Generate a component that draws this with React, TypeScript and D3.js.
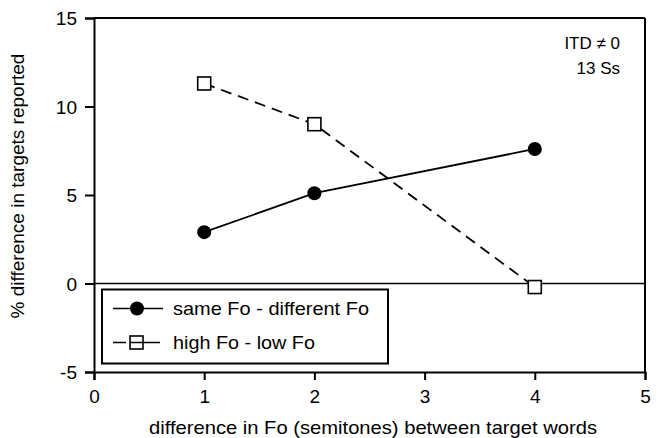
import * as d3 from 'd3';
import React, { useEffect, useRef } from 'react';

// data
const semitones = [1, 2, 4];
const sameMinusDiff = [2.9, 5.1, 7.6];
const highMinusLow = [11.3, 9.0, -0.2];
const xTicks = [0, 1, 2, 3, 4, 5];
const yTicks = [-5, 0, 5, 10, 15];

const App = () => {
  const ref = useRef<SVGSVGElement>(null);

  useEffect(() => {
    const svg = d3.select(ref.current);
    svg.selectAll('*').remove();

    const margin = { top: 18, right: 15, bottom: 66, left: 94 },
      width = 660 - margin.left - margin.right,
      height = 438 - margin.top - margin.bottom;

    const font = 'Liberation Sans, Arial, sans-serif';

    const g = svg.append('g')
      .attr('transform', `translate(${margin.left},${margin.top})`);

    const x = d3.scaleLinear().domain([0, 5]).range([0, width]);
    const y = d3.scaleLinear().domain([-5, 15]).range([height, 0]);

    // frame (top + right)
    g.append('line').attr('x1', 0).attr('x2', width).attr('y1', 0).attr('y2', 0)
      .attr('stroke', '#000').attr('stroke-width', 2);
    g.append('line').attr('x1', width).attr('x2', width).attr('y1', 0).attr('y2', height)
      .attr('stroke', '#000').attr('stroke-width', 2);

    // zero line
    g.append('line').attr('x1', 0).attr('x2', width).attr('y1', y(0)).attr('y2', y(0))
      .attr('stroke', '#000').attr('stroke-width', 1.6);

    // axes
    const xAxis = g.append('g')
      .attr('transform', `translate(0,${height})`)
      .call(d3.axisBottom(x).tickValues(xTicks).tickSize(8).tickPadding(10).tickFormat(d => String(d)));
    const yAxis = g.append('g')
      .call(d3.axisLeft(y).tickValues(yTicks).tickSize(9).tickPadding(8).tickFormat(d => String(d)));

    [xAxis, yAxis].forEach(a => {
      a.select('.domain').attr('stroke-width', 2);
      a.selectAll('.tick line').attr('stroke-width', 2);
      a.selectAll('.tick text').attr('font-family', font).attr('font-size', 19).attr('fill', '#000');
    });
    yAxis.selectAll('.tick text').attr('dy', '0.36em');

    // series
    const line = d3.line<[number, number]>().x(d => x(d[0])).y(d => y(d[1]));
    const same = semitones.map((s, i) => [s, sameMinusDiff[i]] as [number, number]);
    const high = semitones.map((s, i) => [s, highMinusLow[i]] as [number, number]);

    g.append('path').datum(high).attr('d', line)
      .attr('fill', 'none').attr('stroke', '#000').attr('stroke-width', 1.8)
      .attr('stroke-dasharray', '11,7');
    g.append('path').datum(same).attr('d', line)
      .attr('fill', 'none').attr('stroke', '#000').attr('stroke-width', 1.8);

    g.selectAll('.dot').data(same).enter().append('circle')
      .attr('cx', d => x(d[0])).attr('cy', d => y(d[1])).attr('r', 7).attr('fill', '#000');

    g.selectAll('.sq').data(high).enter().append('rect')
      .attr('x', d => x(d[0]) - 6.5).attr('y', d => y(d[1]) - 6.5)
      .attr('width', 13).attr('height', 13)
      .attr('fill', '#fff').attr('stroke', '#000').attr('stroke-width', 1.6);

    // legend
    const lg = g.append('g').attr('transform', 'translate(8,6)');
    lg.append('rect').attr('x', 0).attr('y', y(0)).attr('width', 286).attr('height', 74)
      .attr('fill', '#fff').attr('stroke', '#000').attr('stroke-width', 2);
    const r1 = y(0) + 19, r2 = y(0) + 53;
    lg.append('line').attr('x1', 11).attr('x2', 61).attr('y1', r1).attr('y2', r1)
      .attr('stroke', '#000').attr('stroke-width', 1.6);
    lg.append('circle').attr('cx', 35).attr('cy', r1).attr('r', 7).attr('fill', '#000');
    lg.append('text').attr('x', 71).attr('y', r1).attr('dy', '0.36em')
      .attr('font-family', font).attr('font-size', 19)
      .attr('textLength', 196).attr('lengthAdjust', 'spacingAndGlyphs')
      .text('same Fo - different Fo');
    lg.append('line').attr('x1', 11).attr('x2', 64).attr('y1', r2).attr('y2', r2)
      .attr('stroke', '#000').attr('stroke-width', 1.6).attr('stroke-dasharray', '13,4,30,11,5');
    lg.append('rect').attr('x', 28).attr('y', r2 - 6.5).attr('width', 13).attr('height', 13)
      .attr('fill', 'none').attr('stroke', '#000').attr('stroke-width', 1.6);
    lg.append('text').attr('x', 71).attr('y', r2).attr('dy', '0.36em')
      .attr('font-family', font).attr('font-size', 19)
      .attr('textLength', 142).attr('lengthAdjust', 'spacingAndGlyphs')
      .text('high Fo - low Fo');

    // annotation
    g.append('text').attr('x', width - 25).attr('y', 31).attr('text-anchor', 'end')
      .attr('font-family', font).attr('font-size', 17).text('ITD ≠ 0');
    g.append('text').attr('x', width - 25).attr('y', 56).attr('text-anchor', 'end')
      .attr('font-family', font).attr('font-size', 17).text('13 Ss');

    // axis titles
    svg.append('text').attr('x', 149).attr('y', 434)
      .attr('font-family', font).attr('font-size', 19)
      .attr('textLength', 448).attr('lengthAdjust', 'spacingAndGlyphs')
      .text('difference in Fo (semitones) between target words');
    svg.append('text')
      .attr('transform', `translate(24,${186}) rotate(-90)`)
      .attr('text-anchor', 'middle').attr('font-family', font).attr('font-size', 19)
      .text('% difference in targets reported');
  }, []);

  return (
    <svg ref={ref} width={660} height={438} style={{ display: 'block', position: 'absolute', left: 0, top: 0, background: '#fff' }}></svg>
  );
};

export default App;
